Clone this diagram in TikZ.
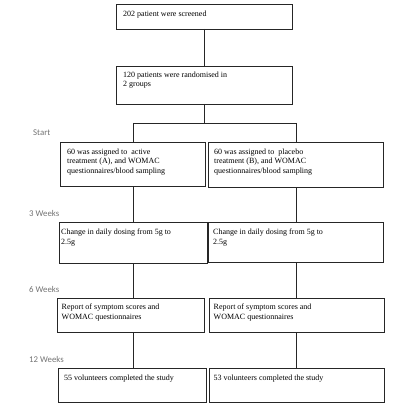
\documentclass[tikz,border=0pt]{standalone}
\usepackage{fontspec}
\setmainfont{Liberation Serif}
\newfontfamily\labelfont{Carlito}
\begin{document}
\begin{tikzpicture}[x=1pt,y=-1pt,
  box/.style={draw=black!85, line width=0.9pt, anchor=north west, inner sep=0pt, outer sep=0pt},
  txt/.style={anchor=north west, inner sep=0pt, align=left, font=\fontsize{8}{9.2}\selectfont},
  phase/.style={anchor=west, inner sep=0pt, text=black!55, font=\labelfont\fontsize{8.8}{10}\selectfont},
  link/.style={draw=black!85, line width=0.9pt}]
\useasboundingbox (0,0) rectangle (400,406);
% boxes
\node[box, minimum width=176pt, minimum height=25pt] (b1) at (116,4) {};
\node[txt] (b1t) at ([shift={(7pt,-6.5pt)}]b1.north west) {202 patient were screened};
\node[box, minimum width=176pt, minimum height=38pt] (b2) at (116,66) {};
\node[txt] (b2t) at ([shift={(7pt,-6pt)}]b2.north west) {120 patients were randomised in\\2 groups};
\node[box, minimum width=145pt, minimum height=44pt] (b3l) at (60,142) {};
\node[txt] (b3lt) at ([shift={(7pt,-7pt)}]b3l.north west) {60 was assigned to\ \ active\\treatment (A), and WOMAC\\questionnaires/blood sampling};
\node[box, minimum width=175pt, minimum height=45pt] (b3r) at (208,142) {};
\node[txt] (b3rt) at ([shift={(6pt,-7pt)}]b3r.north west) {60 was assigned to\ \ placebo\\treatment (B), and WOMAC\\questionnaires/blood sampling};
\node[box, minimum width=148pt, minimum height=41pt] (b4l) at (59,222) {};
\node[txt] (b4lt) at ([shift={(2pt,-7pt)}]b4l.north west) {Change in daily dosing from 5g to\\2.5g};
\node[box, minimum width=175pt, minimum height=40pt] (b4r) at (208,222) {};
\node[txt] (b4rt) at ([shift={(5pt,-7pt)}]b4r.north west) {Change in daily dosing from 5g to\\2.5g};
\node[box, minimum width=147pt, minimum height=34pt] (b5l) at (57,298) {};
\node[txt] (b5lt) at ([shift={(4.5pt,-6pt)}]b5l.north west) {Report of symptom scores and\\WOMAC questionnaires};
\node[box, minimum width=175pt, minimum height=34pt] (b5r) at (209,298) {};
\node[txt] (b5rt) at ([shift={(4.5pt,-6pt)}]b5r.north west) {Report of symptom scores and\\WOMAC questionnaires};
\node[box, minimum width=148pt, minimum height=34pt] (b6l) at (58,368) {};
\node[txt] (b6lt) at ([shift={(6pt,-6.5pt)}]b6l.north west) {55 volunteers completed the study};
\node[box, minimum width=175pt, minimum height=34pt] (b6r) at (209,368) {};
\node[txt] (b6rt) at ([shift={(4.5pt,-6.5pt)}]b6r.north west) {53 volunteers completed the study};
% phase labels
\node[phase] (pstart) at (33,133) {Start};
\node[phase] (p3) at (29,213) {3 Weeks};
\node[phase] (p6) at (29,289) {6 Weeks};
\node[phase] (p12) at (29,359) {12 Weeks};
% connectors
\coordinate (split) at (204,123);
\coordinate (sl) at (133,123);
\coordinate (sr) at (296,123);
\draw[link] (b1.south -| split) -- (b2.north -| split);
\draw[link] (b2.south -| split) -- (split);
\draw[link] (sl) -- (sr);
\draw[link] (sl) -- (sl |- b3l.north);
\draw[link] (sr) -- (sr |- b3r.north);
\draw[link] (sl |- b3l.south) -- (sl |- b4l.north);
\draw[link] (sr |- b3r.south) -- (sr |- b4r.north);
\draw[link] (sl |- b4l.south) -- (sl |- b5l.north);
\draw[link] (sr |- b4r.south) -- (sr |- b5r.north);
\draw[link] (sl |- b5l.south) -- (sl |- b6l.north);
\draw[link] (sr |- b5r.south) -- (sr |- b6r.north);
\end{tikzpicture}
\end{document}
